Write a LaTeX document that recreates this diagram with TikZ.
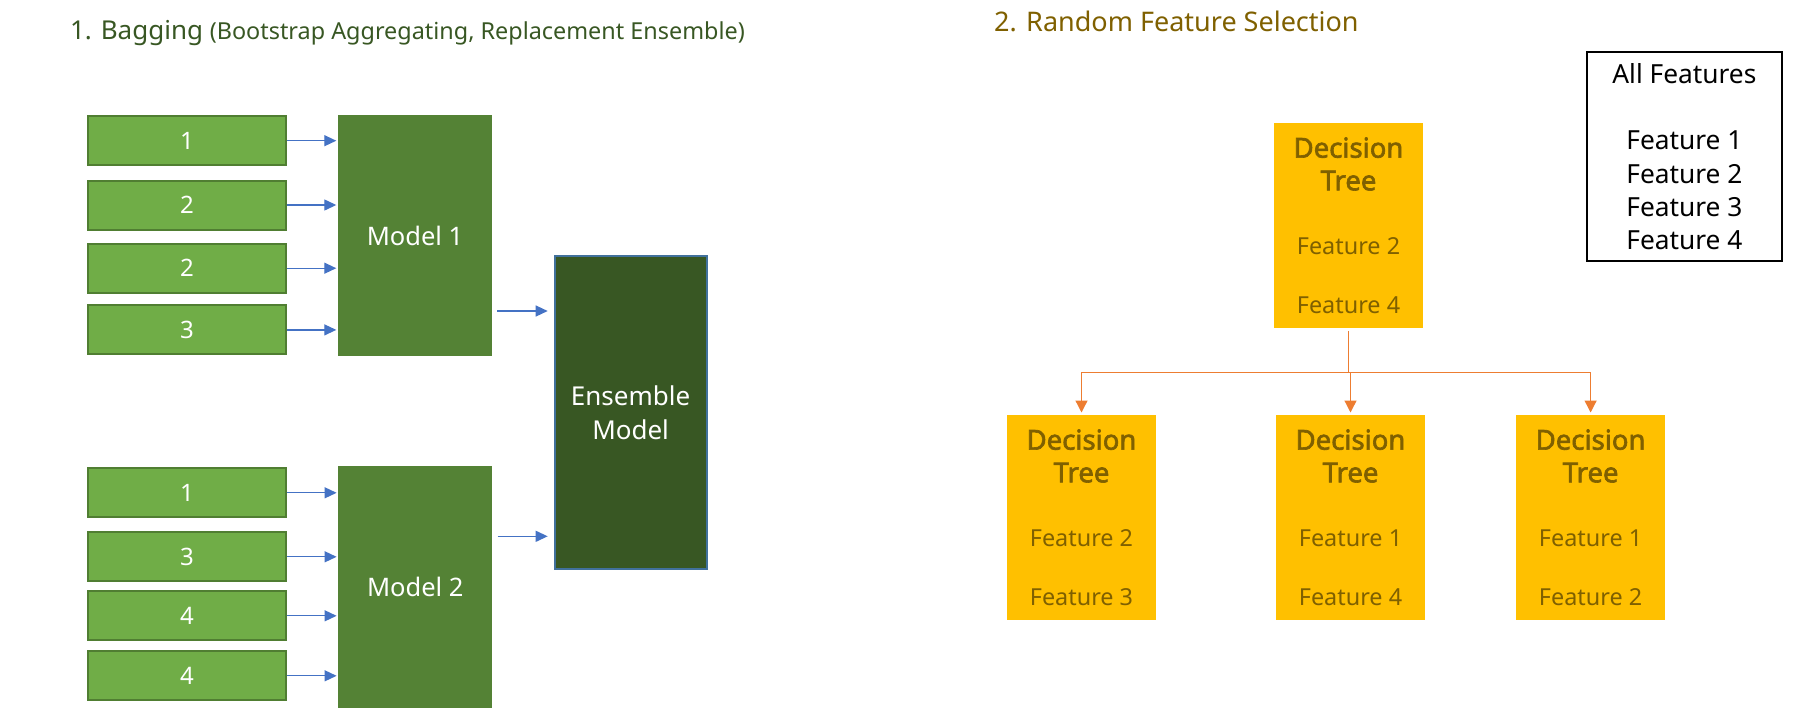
\documentclass[tikz,border=0pt]{standalone}
\usepackage{fontspec}
\setmainfont{Noto Sans}
\newfontfamily\dtbold[FakeBold=2.2]{Noto Sans}
\usetikzlibrary{arrows.meta, positioning}

\definecolor{sampfill}{HTML}{70AD47}
\definecolor{sampline}{HTML}{507E32}
\definecolor{modelfill}{HTML}{548235}
\definecolor{ensfill}{HTML}{385723}
\definecolor{ensline}{HTML}{41719C}
\definecolor{arrowblue}{HTML}{4472C4}
\definecolor{treefill}{HTML}{FFC000}
\definecolor{treetext}{HTML}{7F6000}
\definecolor{treeline}{HTML}{ED7D31}
\definecolor{titlegreen}{HTML}{385723}

\newcommand{\featfont}{\normalfont\fontsize{23.4}{28}\selectfont}
\newcommand{\dtfont}{\dtbold\fontsize{27.5}{32.7}\selectfont}

\begin{document}
\begin{tikzpicture}[x=1pt, y=-1pt, >={Triangle[length=12pt,width=11pt]},
    sample/.style={draw=sampline, line width=2pt, fill=sampfill, text=white,
        minimum width=197.4pt, minimum height=49pt, inner sep=0pt,
        font=\fontsize{24}{28}\selectfont},
    model/.style={fill=modelfill, text=white, minimum width=154pt,
        minimum height=241pt, inner sep=0pt, font=\fontsize{25.5}{30}\selectfont},
    ensemble/.style={draw=ensline, line width=2pt, fill=ensfill, text=white,
        minimum width=151.8pt, minimum height=313.3pt, align=center,
        font=\fontsize{26}{34}\selectfont},
    tree/.style={fill=treefill, text=treetext, minimum width=149pt,
        minimum height=205pt, inner sep=0pt, align=center, font=\dtfont},
    allbox/.style={draw=black, line width=2pt, minimum width=194.7pt,
        minimum height=209pt, align=center, font=\fontsize{26.3}{33.3}\selectfont},
    title/.style={anchor=base west, inner sep=0pt}]
    \useasboundingbox (0,0) rectangle (1815,716);

    %titles
    \node[title, text=titlegreen] (bagtitle) at (69.8,39)
        {{\fontsize{26}{30}\selectfont 1. Bagging }{\fontsize{23.4}{28}\selectfont(Bootstrap Aggregating, Replacement Ensemble)}};
    \node[title, text=treetext, font=\fontsize{27}{32}\selectfont] (rftitle) at (994,31)
        {2. Random Feature Selection};

    %define the bootstrap samples
    \node[sample] (s1) at (187,140.7) {1};
    \node[sample, below=13.3pt of s1] (s2) {2};
    \node[sample, below=12.2pt of s2] (s3) {2};
    \node[sample, below=10.7pt of s3] (s4) {3};
    \node[sample] (s5) at (187,492.8) {1};
    \node[sample, below=13pt of s5] (s6) {3};
    \node[sample, below=8pt of s6] (s7) {4};
    \node[sample, below=9pt of s7] (s8) {4};

    %define the models
    \node[model] (m1) at (415,235.5) {Model 1};
    \node[model, minimum height=241.7pt] (m2) at (415.3,586.8) {Model 2};
    \node[ensemble] (ens) at (630.6,412.4) {Ensemble\\Model};

    %define the links
    \foreach \i in {1,...,4}
        \draw[->, arrowblue, line width=1.3pt, shorten >=1.5pt] (s\i) -- (s\i -| m1.west);
    \foreach \i in {5,...,8}
        \draw[->, arrowblue, line width=1.3pt, shorten >=1.5pt] (s\i) -- (s\i -| m2.west);
    \draw[->, arrowblue, line width=1.3pt, shorten >=6pt]
        ([xshift=5pt, yshift=-75.5pt]m1.east) -- ([yshift=-75.5pt]m1.east -| ens.west);
    \draw[->, arrowblue, line width=1.3pt, shorten >=6pt]
        ([xshift=5pt, yshift=50.5pt]m2.east) -- ([yshift=50.5pt]m2.east -| ens.west);

    %define the trees
    \node[tree] (t0) at (1348.5,225.5)
        {{\dtfont Decision}\\{\dtfont Tree}\\[31.3pt]{\featfont Feature 2}\\[26.3pt]{\featfont Feature 4}};
    \node[tree] (t1) at (1081.5,517.5)
        {{\dtfont Decision}\\{\dtfont Tree}\\[31.3pt]{\featfont Feature 2}\\[26.3pt]{\featfont Feature 3}};
    \node[tree] (t2) at (1350.5,517.5)
        {{\dtfont Decision}\\{\dtfont Tree}\\[31.3pt]{\featfont Feature 1}\\[26.3pt]{\featfont Feature 4}};
    \node[tree] (t3) at (1590.6,517.5)
        {{\dtfont Decision}\\{\dtfont Tree}\\[31.3pt]{\featfont Feature 1}\\[26.3pt]{\featfont Feature 2}};
    \node[allbox] (all) at (1684.4,156.5)
        {All Features\\[33.3pt]Feature 1\\Feature 2\\Feature 3\\Feature 4};

    %split the feature set
    \coordinate[below=44pt of t0.south] (split);
    \draw[treeline, line width=1.5pt, shorten <=2.7pt] (t0) -- (split);
    \foreach \i in {1,2,3}
        \draw[->, >={Triangle[length=12pt,width=12pt]}, treeline, line width=1.3pt,
            shorten >=2.3pt] (split) -| (t\i);
\end{tikzpicture}
\end{document}
